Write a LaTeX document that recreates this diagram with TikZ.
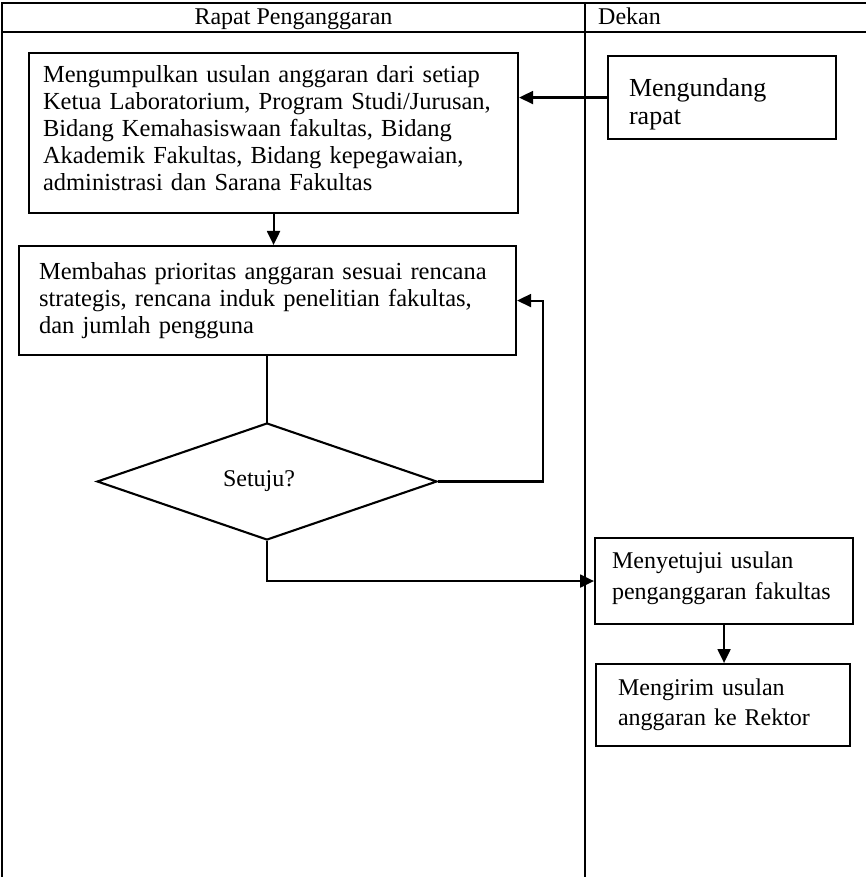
\documentclass[tikz,border=0pt]{standalone}
\usepackage{fontspec}
\setmainfont{Liberation Serif}
\usetikzlibrary{arrows.meta,shapes.geometric}
\tikzset{
  ln/.style={line width=2.1pt, line cap=rect},
  arr/.style={line width=2.1pt, -{Triangle[length=14pt,width=13pt]}},
  box/.style={draw, line width=2.1pt, anchor=north west, align=left, inner ysep=0pt,
              font=\fontsize{24.5}{27}\selectfont},
  hdr/.style={anchor=base, inner sep=0pt, font=\fontsize{24}{28}\selectfont},
}
\begin{document}
\begin{tikzpicture}[x=1pt,y=-1pt]
\useasboundingbox (0,0) rectangle (866,877);
% swimlane frame
\draw[ln] (2,3) -- (866,3);
\draw[ln] (2,32) -- (866,32);
\draw[ln] (2,3) -- (2,877);
\draw[ln] (585,3) -- (585,877);
\node[hdr] (h1) at (293.5,25) {Rapat Penganggaran};
\node[hdr, anchor=base west] (h2) at (598,25) {Dekan};
% boxes
\node[box, inner xsep=14pt, text width=461pt, minimum width=489pt, minimum height=160pt] (b1) at (28,52)
  {Mengumpulkan usulan anggaran dari setiap\\
   Ketua Laboratorium, Program Studi/Jurusan,\\
   Bidang Kemahasiswaan fakultas, Bidang\\
   Akademik Fakultas, Bidang kepegawaian,\\
   administrasi dan Sarana Fakultas\rule[-11pt]{0pt}{1pt}};
\node[box, inner xsep=21pt, text width=186pt, minimum width=228pt, minimum height=83pt,
      font=\fontsize{26}{28.5}\selectfont] (m) at (607,55)
  {\rule{0pt}{31pt}Mengundang\\rapat};
\node[box, inner xsep=20pt, text width=457pt, minimum width=497pt, minimum height=109pt] (b2) at (18,245)
  {Membahas prioritas anggaran sesuai rencana\\
   strategis, rencana induk penelitian fakultas,\\
   dan jumlah pengguna};
\node[draw, line width=2.1pt, diamond, inner sep=0pt, minimum width=340pt, minimum height=117pt,
      font=\fontsize{24}{28}\selectfont] (d) at (267,481.5) {Setuju?\hspace*{16pt}};
\node[box, inner xsep=17pt, text width=224pt, minimum width=258pt, minimum height=86pt,
      font=\fontsize{24}{31}\selectfont] (b3) at (594,537)
  {Menyetujui usulan\\penganggaran fakultas\rule[-11pt]{0pt}{1pt}};
\node[box, inner xsep=22pt, text width=210pt, minimum width=254pt, minimum height=82pt,
      font=\fontsize{24}{30}\selectfont] (b4) at (595,663)
  {Mengirim usulan\\anggaran ke Rektor};
% connectors
\draw[arr] (m.west) -- (m.west -| b1.east);
\draw[arr] (b1.south) -- (b1.south |- b2.north);
\draw[ln] (d.north) -- (d.north |- b2.south);
\coordinate (lp) at (543,481.5);
\draw[arr] (d.east) -- (lp) |- (b2.east);
\draw[arr] (d.south) |- (b3.west);
\draw[arr] (b3.south) -- (b3.south |- b4.north);
\end{tikzpicture}
\end{document}
